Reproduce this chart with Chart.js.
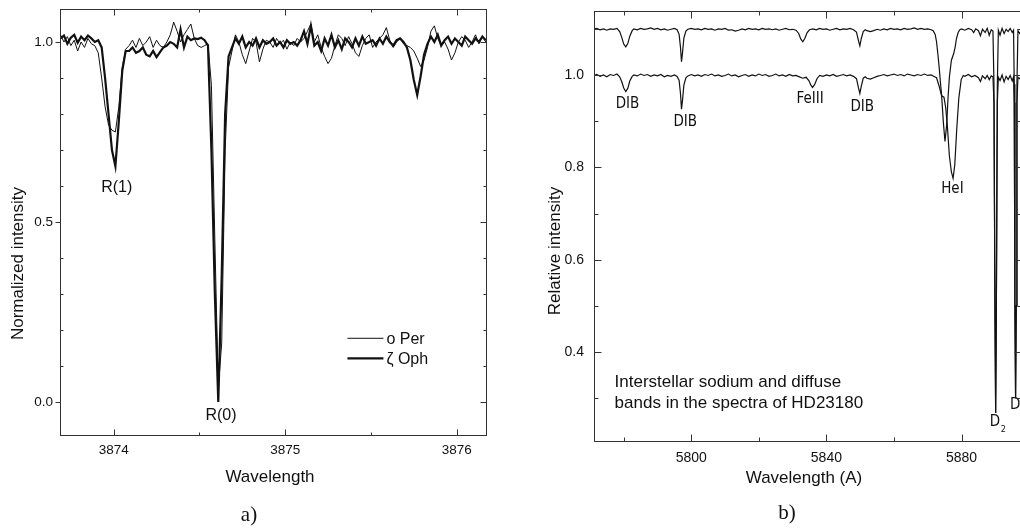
<!DOCTYPE html>
<html>
<head>
<meta charset="utf-8">
<script src="https://cdn.jsdelivr.net/npm/chart.js@4.4.0/dist/chart.umd.min.js"></script>
<style>
html, body { margin: 0; padding: 0; background: #fff; overflow: hidden; width: 1020px; height: 529px; }
#ca { position: absolute; left: 0; top: 0; }
#cb { position: absolute; left: 510px; top: 0; }
</style>
</head>
<body>
<canvas id="ca" width="510" height="529"></canvas>
<canvas id="cb" width="520" height="529"></canvas>
<script>
//////////////////////////////////////////////////////////
/* DATA - panel a) R(0)/R(1) lines, uniform 0.02 A sampling */
const aStart = 3873.69, aStep = 0.02;
const aWave = Array.from({length: 125}, (_, i) => +(aStart + aStep * i).toFixed(2));

// o Per (thin line)
const aPer = [
  1.020, 1.000, 1.015, 0.990, 1.005, 0.975, 1.000, 0.985, 1.010, 0.995,
  0.990, 0.970, 0.900, 0.820, 0.770, 0.755, 0.750, 0.820, 0.930, 0.980,
  0.990, 1.005, 0.985, 1.010, 0.990, 1.000, 1.015, 0.985, 1.005, 0.990,
  0.985, 1.000, 1.020, 1.055, 1.030, 1.000, 1.020, 1.035, 1.050, 1.010,
  0.990, 0.985, 0.990, 0.995, 0.880, 0.450, 0.040, 0.164, 0.700, 0.930,
  0.975, 1.020, 1.000, 0.965, 0.940, 0.975, 1.010, 1.000, 0.945, 0.980,
  1.005, 1.000, 0.985, 1.010, 0.995, 1.005, 0.980, 1.000, 0.990, 1.010,
  1.000, 1.010, 1.030, 1.050, 1.000, 1.020, 0.985, 0.960, 0.940, 0.955,
  0.990, 1.020, 1.010, 0.990, 1.015, 0.995, 0.970, 0.960, 0.990, 1.010,
  1.020, 0.985, 1.000, 1.010, 1.020, 1.040, 1.005, 0.985, 1.000, 1.010,
  0.995, 0.990, 0.985, 0.975, 0.955, 0.932, 0.950, 0.985, 1.030, 1.045,
  1.010, 0.990, 1.000, 0.980, 0.950, 0.970, 1.000, 1.015, 1.005, 0.985,
  1.000, 1.020, 0.995, 1.015, 1.000
];

// zeta Oph (thick line)
const aOph = [
  1.010, 1.018, 0.995, 1.012, 1.020, 0.998, 1.015, 1.005, 1.018, 1.010,
  1.000, 1.005, 0.985, 0.900, 0.800, 0.700, 0.655, 0.780, 0.920, 0.975,
  0.975, 0.985, 0.970, 0.975, 0.985, 0.965, 0.960, 0.975, 0.958, 0.972,
  0.985, 0.990, 1.000, 0.995, 0.985, 1.035, 0.985, 1.015, 1.005, 1.010,
  1.008, 1.012, 1.005, 0.990, 0.700, 0.300, 0.000, 0.350, 0.800, 0.960,
  0.985, 1.010, 0.995, 1.015, 0.985, 1.000, 0.990, 1.010, 0.985, 1.005,
  0.995, 1.000, 1.010, 0.990, 1.000, 0.985, 1.005, 0.995, 1.000, 0.990,
  1.005, 1.030, 0.995, 1.045, 0.990, 1.000, 0.975, 1.010, 0.990, 1.020,
  0.985, 1.005, 0.980, 1.010, 1.000, 0.985, 1.010, 0.990, 1.015, 0.995,
  1.000, 1.005, 0.990, 1.010, 0.995, 1.015, 1.000, 0.990, 1.005, 1.010,
  1.000, 0.985, 0.950, 0.895, 0.853, 0.905, 0.965, 0.995, 1.015, 1.000,
  1.020, 0.990, 1.005, 1.015, 0.995, 1.010, 1.000, 0.990, 1.015, 1.005,
  0.995, 1.010, 1.000, 1.015, 1.005
];

const aTicksX = [3874, 3875, 3876];
const aMinorX = [3874.5, 3875.5];
const aTicksY = [0, 0.5, 1.0];
const aMinorY = [0.1, 0.2, 0.3, 0.4, 0.6, 0.7, 0.8, 0.9];

//////////////////////////////////////////////////////////
/* DATA - panel b) HD23180, two spectra (upper one offset by +0.1) */
const bUpWave = [
  5771, 5772, 5773, 5774, 5775, 5776, 5777, 5778,
  5778.8, 5779.4, 5780.0, 5780.6, 5781.2, 5781.8, 5782.5,
  5783, 5784, 5785, 5786, 5787, 5788, 5789, 5790, 5791, 5792, 5793, 5794, 5795,
  5795.8, 5796.4, 5796.8, 5797.1, 5797.4, 5797.8, 5798.4,
  5799, 5800, 5801, 5802, 5803, 5804, 5805, 5806, 5807, 5808,
  5809, 5810, 5811, 5812, 5813, 5814, 5815, 5816, 5817, 5818,
  5819, 5820, 5821, 5822, 5823, 5824, 5825, 5826, 5827, 5828,
  5829, 5830, 5831,
  5831.8, 5832.4, 5833.0, 5833.6, 5834.3,
  5835, 5836, 5837, 5838, 5839, 5840, 5841, 5842, 5843, 5844, 5845, 5846, 5847, 5848,
  5848.9, 5849.5, 5849.9, 5850.3, 5850.9, 5851.5,
  5852, 5853, 5854, 5855, 5856, 5857, 5858, 5859, 5860, 5861,
  5862, 5863, 5864, 5865, 5866, 5867, 5868, 5869, 5870, 5871,
  5871.6, 5872.2, 5872.6, 5873.0, 5873.4, 5873.8, 5874.1, 5874.6, 5875.1,
  5875.6, 5876.0, 5876.4, 5877.0, 5877.7, 5878.1, 5878.5, 5879.0, 5879.5,
  5880, 5881, 5882, 5883, 5883.6, 5884.2, 5885, 5885.6, 5886.2, 5887, 5887.6, 5888.2, 5888.8, 5889.3,
  5889.6, 5889.9, 5890.1, 5890.3, 5890.6,
  5890.9, 5891.4, 5892.0, 5892.6, 5893.2, 5893.8, 5894.4, 5895.0, 5895.4,
  5895.6, 5895.8, 5896.0, 5896.2, 5896.4,
  5896.7, 5897.2, 5898
];
const bUpFlux = [
  1.099, 1.101, 1.098, 1.100, 1.097, 1.100, 1.099, 1.101,
  1.094, 1.082, 1.067, 1.061, 1.068, 1.084, 1.096,
  1.100, 1.098, 1.101, 1.099, 1.100, 1.102, 1.099, 1.101, 1.098, 1.100, 1.097, 1.099, 1.101,
  1.098, 1.088, 1.060, 1.029, 1.048, 1.080, 1.095,
  1.099, 1.101, 1.099, 1.100, 1.098, 1.101, 1.099, 1.100, 1.097, 1.100,
  1.099, 1.101, 1.097, 1.098, 1.095, 1.097, 1.100, 1.098, 1.101, 1.099,
  1.100, 1.098, 1.101, 1.099, 1.100, 1.098, 1.100, 1.097, 1.099, 1.101,
  1.098, 1.099, 1.097,
  1.090, 1.078, 1.072, 1.079, 1.092,
  1.098, 1.100, 1.098, 1.101, 1.099, 1.100, 1.097, 1.099, 1.101, 1.098, 1.100, 1.099, 1.101, 1.098,
  1.093, 1.074, 1.063, 1.078, 1.094, 1.098,
  1.096, 1.094, 1.096, 1.099, 1.097, 1.100, 1.098, 1.101, 1.099, 1.100,
  1.098, 1.101, 1.099, 1.100, 1.102, 1.099, 1.101, 1.099, 1.100, 1.098,
  1.096, 1.088, 1.072, 1.045, 1.015, 0.980, 0.957, 0.899, 0.856,
  0.892, 0.950, 0.995, 1.032, 1.047, 1.060, 1.079, 1.092, 1.098,
  1.100, 1.097, 1.101, 1.098, 1.092, 1.100, 1.096, 1.085, 1.099, 1.092, 1.101, 1.086, 1.098, 1.095,
  0.980, 0.480, 0.268, 0.480, 0.980,
  1.097, 1.086, 1.101, 1.090, 1.099, 1.094, 1.101, 1.092, 1.097,
  0.980, 0.500, 0.300, 0.500, 0.980,
  1.096, 1.090, 1.099
];

const bLowWave = [
  5771, 5772, 5773, 5774, 5775, 5776, 5777, 5778,
  5778.8, 5779.4, 5780.0, 5780.6, 5781.2, 5781.8, 5782.5,
  5783, 5784, 5785, 5786, 5787, 5788, 5789, 5790, 5791, 5792, 5793, 5794, 5795,
  5795.8, 5796.4, 5796.8, 5797.1, 5797.4, 5797.8, 5798.4,
  5799, 5800, 5801, 5802, 5803, 5804, 5805, 5806, 5807, 5808,
  5809, 5810, 5811, 5812, 5813, 5814, 5815, 5816, 5817, 5818,
  5819, 5820, 5821, 5822, 5823, 5824, 5825, 5826, 5827, 5828,
  5829, 5830, 5831, 5832, 5833,
  5834, 5834.8, 5835.4, 5835.9, 5836.5, 5837.2,
  5838, 5839, 5840, 5841, 5842, 5843, 5844, 5845, 5846, 5847, 5848,
  5848.9, 5849.5, 5849.9, 5850.3, 5850.9, 5851.5,
  5852, 5853, 5854, 5855, 5856, 5857, 5858, 5859, 5860, 5861,
  5862, 5863, 5864, 5865, 5866, 5867, 5868, 5869, 5870, 5871,
  5871.6, 5872.6, 5873.4, 5874.1, 5874.8, 5875.3, 5875.8, 5876.4,
  5877.0, 5877.5, 5878.0, 5878.6, 5879.2, 5879.9, 5880.5,
  5881, 5882, 5883, 5884, 5885, 5885.6, 5886.2, 5887, 5887.6, 5888.2, 5888.8, 5889.3,
  5889.6, 5889.9, 5890.1, 5890.3, 5890.6,
  5890.9, 5891.4, 5892.0, 5892.6, 5893.2, 5893.8, 5894.4, 5895.0, 5895.4,
  5895.6, 5895.8, 5896.0, 5896.2, 5896.4,
  5896.7, 5897.2, 5898
];
const bLowFlux = [
  0.998, 1.001, 0.997, 1.000, 0.996, 1.001, 0.999, 1.002,
  0.996, 0.986, 0.972, 0.964, 0.971, 0.987, 0.997,
  1.000, 0.998, 1.002, 0.999, 1.001, 0.997, 1.000, 0.998, 1.001, 0.996, 0.999, 0.997, 1.000,
  0.997, 0.988, 0.960, 0.926, 0.945, 0.978, 0.994,
  0.998, 1.001, 0.998, 1.000, 0.997, 1.001, 0.999, 1.002, 0.998, 1.000,
  0.997, 0.999, 1.002, 0.998, 1.000, 0.996, 0.999, 1.001, 0.997, 1.000,
  0.998, 1.002, 0.999, 1.001, 0.997, 0.999, 1.002, 0.998, 1.000, 0.997,
  1.001, 0.998, 0.999, 0.996, 0.993,
  0.995, 0.988, 0.978, 0.973, 0.979, 0.992,
  0.999, 0.997, 1.000, 0.998, 1.001, 0.997, 0.999, 1.001, 0.998, 1.000, 0.997,
  0.992, 0.972, 0.960, 0.975, 0.993, 0.996,
  0.993, 0.991, 0.994, 0.997, 0.999, 1.001, 0.998, 1.000, 1.002, 0.999,
  1.001, 0.998, 1.002, 1.000, 0.998, 1.001, 0.999, 1.002, 0.999, 1.000,
  0.998, 0.994, 0.975, 0.955, 0.952, 0.930, 0.890, 0.825,
  0.790, 0.776, 0.805, 0.885, 0.950, 0.990, 0.999,
  0.997, 1.001, 0.996, 0.999, 0.994, 0.986, 0.998, 0.992, 0.999, 0.990, 0.998, 0.996,
  0.940, 0.480, 0.268, 0.480, 0.940,
  0.995, 0.988, 1.000, 0.985, 0.997, 0.990, 0.999, 0.987, 0.996,
  0.940, 0.500, 0.300, 0.500, 0.940,
  0.995, 0.992, 0.998
];

const bTicksX = [5800, 5840, 5880];
const bMinorX = [5780, 5820, 5860];
const bTicksY = [0.4, 0.6, 0.8, 1.0];
const bMinorY = [0.3, 0.5, 0.7, 0.9, 1.1];

//////////////////////////////////////////////////////////
/* FONTS AND HELPERS */
const SANS = '"Liberation Sans", Arial, sans-serif';
const NARROW = '"Liberation Sans Narrow", "DejaVu Sans Condensed", sans-serif';
const SERIF = '"Liberation Serif", "DejaVu Serif", serif';
const INK = '#111';

function pts(wave, flux) {
  return wave.map((w, i) => ({x: w, y: flux[i]}));
}

// frame, inward/outward ticks and text labels
const framePlugin = {
  id: 'frame',
  afterDatasetsDraw(chart, args, o) {
    const {ctx, chartArea: a, scales: {x, y}} = chart;
    const L = Math.round(a.left) + 0.5, R = Math.round(a.right) - 0.5;
    const T = Math.round(a.top) + 0.5, B = Math.round(a.bottom) - 0.5;
    ctx.save();
    ctx.strokeStyle = '#333';
    ctx.lineWidth = 1;
    ctx.strokeRect(L, T, R - L, B - T);
    ctx.beginPath();
    const xt = (list, len) => list.forEach(v => {
      const p = Math.round(x.getPixelForValue(v)) + 0.5;
      ctx.moveTo(p, B); ctx.lineTo(p, B - len);
      ctx.moveTo(p, T); ctx.lineTo(p, T + len);
    });
    const yt = (list, lenL, lenR) => list.forEach(v => {
      const p = Math.round(y.getPixelForValue(v)) + 0.5;
      ctx.moveTo(L, p); ctx.lineTo(L + lenL, p);
      ctx.moveTo(R, p); ctx.lineTo(R - lenR, p);
    });
    xt(o.majorX, o.major);
    xt(o.minorX, o.minor);
    yt(o.majorY, o.leftMajor, o.major);
    yt(o.minorY, o.minor, o.minor);
    ctx.stroke();

    ctx.fillStyle = INK;
    (o.texts || []).forEach(t => {
      ctx.save();
      const px = t.data ? x.getPixelForValue(t.x) : t.x;
      const py = t.data ? y.getPixelForValue(t.y) : t.y;
      ctx.translate(px, py);
      if (t.rot) ctx.rotate(t.rot);
      ctx.font = t.font;
      ctx.textAlign = t.align || 'center';
      ctx.textBaseline = 'middle';
      ctx.fillText(t.text, 0, 0);
      ctx.restore();
    });
    (o.keys || []).forEach(k => {
      const y0 = y.getPixelForValue(k.y);
      ctx.beginPath();
      ctx.lineWidth = k.width;
      ctx.strokeStyle = INK;
      ctx.moveTo(x.getPixelForValue(k.x0), y0);
      ctx.lineTo(x.getPixelForValue(k.x1), y0);
      ctx.stroke();
      ctx.font = '16px ' + SANS;
      ctx.textAlign = 'left';
      ctx.textBaseline = 'middle';
      ctx.fillText(k.text, x.getPixelForValue(k.x1) + 3, y0 + 1);
    });
    ctx.restore();
  }
};

function axes(xr, yr, xt, yt, yw, xh, ypad, xpad, fontSize, yfmt) {
  const tickFont = {family: SANS, size: fontSize};
  return {
    x: {
      type: 'linear', min: xr[0], max: xr[1],
      grid: {display: false, drawTicks: false}, border: {display: false},
      afterBuildTicks: s => { s.ticks = xt.map(v => ({value: v})); },
      afterFit: s => { s.height = xh; s.paddingLeft = 0; s.paddingRight = 0; },
      ticks: {font: tickFont, color: INK, padding: xpad, maxRotation: 0, autoSkip: false,
              callback: v => String(v)}
    },
    y: {
      type: 'linear', min: yr[0], max: yr[1],
      grid: {display: false, drawTicks: false}, border: {display: false},
      afterBuildTicks: s => { s.ticks = yt.map(v => ({value: v})); },
      afterFit: s => { s.width = yw; s.paddingTop = 0; s.paddingBottom = 0; },
      ticks: {font: tickFont, color: INK, padding: ypad, autoSkip: false,
              callback: v => v.toFixed(yfmt)}
    }
  };
}

//////////////////////////////////////////////////////////
/* PANEL a) */
new Chart(document.getElementById('ca'), {
  type: 'line',
  data: {
    datasets: [
      {label: 'o Per', data: pts(aWave, aPer), borderColor: INK, borderWidth: 1, pointRadius: 0, tension: 0},
      {label: 'ζ Oph', data: pts(aWave, aOph), borderColor: INK, borderWidth: 2.2, pointRadius: 0, tension: 0}
    ]
  },
  options: {
    responsive: false, animation: false,
    layout: {padding: {left: 0, top: 9, right: 23, bottom: 43}},
    scales: axes([3873.687, 3876.177], [-0.0944, 1.0917], aTicksX, aTicksY, 60, 50, 7, 6, 13.5, 1),
    plugins: {
      legend: {display: false}, tooltip: {enabled: false},
      frame: {
        majorX: aTicksX, minorX: aMinorX, majorY: aTicksY, minorY: aMinorY,
        major: 6, minor: 3, leftMajor: -5,
        texts: [
          {text: 'R(1)', data: true, x: 3874.018, y: 0.596, font: '16px ' + SANS},
          {text: 'R(0)', data: true, x: 3874.626, y: -0.0375, font: '16px ' + SANS},
          {text: 'Normalized intensity', x: 18.5, y: 263.5, rot: -Math.PI / 2, font: '17px ' + SANS},
          {text: 'Wavelength', x: 270, y: 477, font: '17px ' + SANS},
          {text: 'a)', x: 249, y: 515, font: '21px ' + SERIF}
        ],
        keys: [
          {text: 'o Per', x0: 3875.363, x1: 3875.573, y: 0.177, width: 1},
          {text: 'ζ Oph', x0: 3875.363, x1: 3875.573, y: 0.121, width: 2.2}
        ]
      }
    }
  },
  plugins: [framePlugin]
});

//////////////////////////////////////////////////////////
/* PANEL b) */
const labFont = '15px ' + NARROW;
new Chart(document.getElementById('cb'), {
  type: 'line',
  data: {
    datasets: [
      {label: 'upper', data: pts(bUpWave, bUpFlux), borderColor: INK, borderWidth: 1.2, pointRadius: 0, tension: 0},
      {label: 'lower', data: pts(bLowWave, bLowFlux), borderColor: INK, borderWidth: 1.2, pointRadius: 0, tension: 0}
    ]
  },
  options: {
    responsive: false, animation: false,
    layout: {padding: {left: 0, top: 11, right: 8, bottom: 37}},
    scales: axes([5771.2, 5897.9], [0.2051, 1.1386], bTicksX, bTicksY, 84, 50, 10, 8, 14, 1),
    plugins: {
      legend: {display: false}, tooltip: {enabled: false},
      frame: {
        majorX: bTicksX, minorX: bMinorX, majorY: bTicksY, minorY: bMinorY,
        major: 7, minor: 4, leftMajor: 7,
        texts: [
          {text: 'DIB', data: true, x: 5781.1, y: 0.937, font: labFont},
          {text: 'DIB', data: true, x: 5798.2, y: 0.897, font: labFont},
          {text: 'FeIII', data: true, x: 5835.2, y: 0.948, font: labFont},
          {text: 'DIB', data: true, x: 5850.6, y: 0.930, font: labFont},
          {text: 'HeI', data: true, x: 5877.3, y: 0.752, font: labFont},
          {text: 'D', data: true, x: 5889.9, y: 0.248, font: labFont},
          {text: '2', data: true, x: 5892.4, y: 0.231, font: '9px ' + NARROW},
          {text: 'D', data: true, x: 5895.9, y: 0.285, font: labFont},
          {text: 'Interstellar sodium and diffuse', data: true, x: 5777.3, y: 0.3336, align: 'left', font: '17px ' + SANS},
          {text: 'bands in the spectra of HD23180', data: true, x: 5777.3, y: 0.289, align: 'left', font: '17px ' + SANS},
          {text: 'Relative intensity', x: 45.5, y: 251, rot: -Math.PI / 2, font: '17px ' + SANS},
          {text: 'Wavelength (A)', x: 294, y: 478, font: '17px ' + SANS},
          {text: 'b)', x: 277, y: 513, font: '21px ' + SERIF}
        ]
      }
    }
  },
  plugins: [framePlugin]
});
</script>
</body>
</html>
